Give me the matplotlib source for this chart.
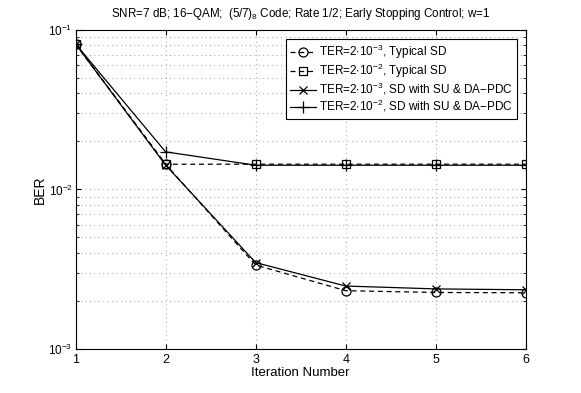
import matplotlib
matplotlib.use("Agg")
import matplotlib.pyplot as plt
from matplotlib.ticker import LogLocator, NullFormatter

plt.rcParams['font.family'] = ['Liberation Sans', 'DejaVu Sans']
plt.rcParams['mathtext.fontset'] = 'custom'
plt.rcParams['mathtext.rm'] = 'Liberation Sans'
plt.rcParams['mathtext.it'] = 'Liberation Sans'
plt.rcParams['mathtext.default'] = 'regular'

iterations = [1, 2, 3, 4, 5, 6]
ber_typ_3 = [0.0817, 0.01439, 0.00336, 0.00232, 0.00226, 0.00225]
ber_typ_2 = [0.0817, 0.01439, 0.01439, 0.01439, 0.01439, 0.01439]
ber_su_3 = [0.0817, 0.01420, 0.00348, 0.00248, 0.00238, 0.00235]
ber_su_2 = [0.0817, 0.0172, 0.01418, 0.01418, 0.01418, 0.01418]

labels = [
    r"TER=2$\cdot$10$^{-3}$, Typical SD",
    r"TER=2$\cdot$10$^{-2}$, Typical SD",
    r"TER=2$\cdot$10$^{-3}$, SD with SU & DA−PDC",
    r"TER=2$\cdot$10$^{-2}$, SD with SU & DA−PDC",
]

fig = plt.figure(figsize=(5.81, 3.93), dpi=100)
ax = fig.add_axes([0.130, 0.112, 0.775, 0.812])

ax.semilogy(iterations, ber_typ_3, color='black', linestyle=(0, (4, 3)), lw=0.9,
            marker='o', markersize=6.5, markerfacecolor='none', markeredgewidth=0.9, label=labels[0])
ax.semilogy(iterations, ber_typ_2, color='black', linestyle=(0, (4, 3)), lw=0.9,
            marker='s', markersize=6, markerfacecolor='none', markeredgewidth=0.9, label=labels[1])
ax.semilogy(iterations, ber_su_3, color='black', linestyle='-', lw=0.9,
            marker='x', markersize=6, markeredgewidth=0.9, label=labels[2])
ax.semilogy(iterations, ber_su_2, color='black', linestyle='-', lw=0.9,
            marker='+', markersize=8, markeredgewidth=0.9, label=labels[3])

ax.set_xlim(1, 6)
ax.set_ylim(1e-3, 1e-1)
ax.set_xticks(iterations)
ax.yaxis.set_major_locator(LogLocator(base=10, numticks=10))
ax.yaxis.set_minor_locator(LogLocator(base=10, subs=range(2, 10), numticks=20))
ax.yaxis.set_minor_formatter(NullFormatter())
ax.tick_params(which='both', direction='in', labelsize=9, top=True, right=True)
ax.tick_params(axis='y', which='major', labelsize=8.5, pad=2)
ax.tick_params(which='minor', length=2)
ax.grid(True, which='major', linestyle=(0, (1, 3)), color='#b0b0b0', lw=0.8)
ax.grid(True, which='minor', axis='y', linestyle=(0, (1, 3)), color='#b0b0b0', lw=0.8)

ax.set_xlabel("Iteration Number", fontsize=9.5, labelpad=1)
ax.set_ylabel("BER", fontsize=10, labelpad=1)
ax.set_title(r"SNR=7 dB; 16−QAM;  (5/7)$_8$ Code; Rate 1/2; Early Stopping Control; w=1",
             fontsize=8.4, pad=9)

leg = ax.legend(loc='upper right', fontsize=8.5, frameon=True, fancybox=False,
                edgecolor='black', framealpha=1, handlelength=2.2, handletextpad=0.25,
                borderaxespad=0.75, labelspacing=0.08, borderpad=0.35)
leg.get_frame().set_linewidth(0.8)

fig.savefig("out.png", dpi=100)
